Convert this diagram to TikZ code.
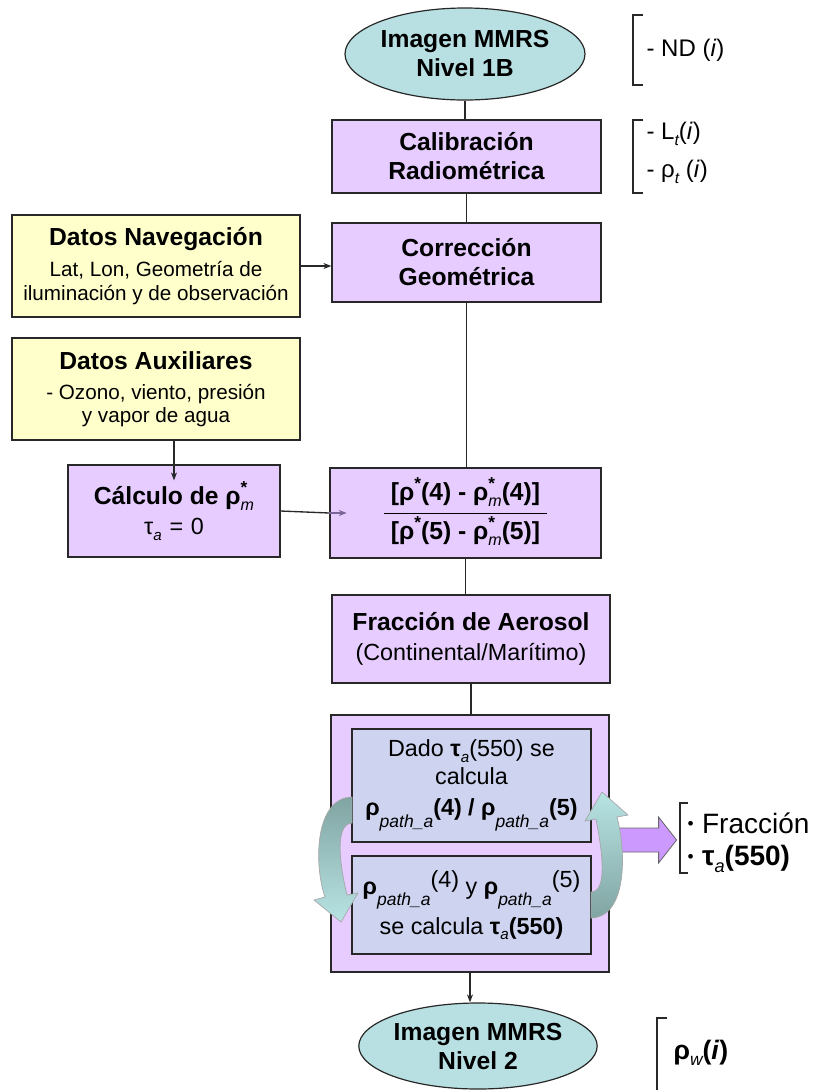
\documentclass[tikz,border=0pt]{standalone}
\usepackage{fontspec}
\setmainfont{Liberation Sans}
\usetikzlibrary{arrows.meta,calc,shapes.geometric}

\definecolor{cyanfill}{RGB}{184,224,226}
\definecolor{purplefill}{RGB}{230,204,255}
\definecolor{yellowfill}{RGB}{255,255,204}
\definecolor{innerfill}{RGB}{206,212,240}
\definecolor{fatfill}{RGB}{204,153,255}
\definecolor{tealdark}{RGB}{128,164,162}
\definecolor{teallight}{RGB}{184,228,228}
\definecolor{arrowgray}{RGB}{120,100,150}
\definecolor{edge}{RGB}{40,40,40}

\makeatletter
\newcommand\relsz[1]{\fontsize{\strip@pt\dimexpr\f@size pt*#1/100\relax}{0}\selectfont}
\makeatother
\newcommand\fT{\fontsize{18.5}{21.75}\selectfont\bfseries}
\newcommand\fS{\fontsize{15.5}{17.5}\selectfont}
\newcommand\fB{\fontsize{18}{20}\selectfont}
\newcommand\fM{\fontsize{17.5}{21}\selectfont}
\newcommand\fL{\fontsize{21}{26}\selectfont}
\newcommand\sbs[1]{\raisebox{-0.45ex}{\relsz{65}\mdseries\itshape #1}}
\newcommand\sps[1]{\raisebox{0.45em}{\relsz{70}#1}}
\newcommand\supsub[2]{\rlap{\sps{#1}}\sbs{#2}}
\newcommand\psub{\raisebox{-0.5em}{\relsz{75}\mdseries\itshape path\_a}}
\newcommand\smbullet{\raisebox{0.12em}{\fontsize{13}{13}\selectfont\textbullet}\hspace{0.3em}}

\begin{document}
\begin{tikzpicture}[x=0.75pt,y=-0.75pt,
  box/.style={draw=edge, line width=0.9pt, inner sep=0pt, align=center},
  pbox/.style={box, fill=purplefill},
  ybox/.style={box, fill=yellowfill},
  ibox/.style={box, fill=innerfill},
  ell/.style={ellipse, draw=edge, line width=0.9pt, fill=cyanfill, inner sep=0pt, align=center, font=\fT},
  conn/.style={line width=1pt, draw=edge},
  arr/.style={conn, -{Stealth[length=6pt,width=4.5pt]}},
  brk/.style={line width=0.9pt, draw=edge},
  lbl/.style={anchor=west, inner sep=1pt},
  fat/.style={fill=fatfill, draw=black!60, line width=0.6pt},
  curlA/.style={top color=tealdark, bottom color=teallight, draw=black!35, line width=0.5pt},
  curlB/.style={top color=teallight, bottom color=tealdark, draw=black!35, line width=0.5pt}]
\useasboundingbox (0,0) rectangle (822,1090);

% main column
\node[ell, minimum width=240*0.75pt, minimum height=92*0.75pt] (n1b) at (465,54) {Imagen MMRS\\Nivel 1B};
\node[pbox, minimum width=269*0.75pt, minimum height=73*0.75pt, font=\fT] (cal) at (466.5,156.5) {Calibración\\Radiométrica};
\node[pbox, minimum width=269*0.75pt, minimum height=79*0.75pt, font=\fT] (geo) at (466.5,262.5) {Corrección\\Geométrica};
\node[ybox, minimum width=288*0.75pt, minimum height=102*0.75pt, font=\fS] (nav) at (156,266) {{\fT Datos Navegación}\\[6pt]Lat, Lon, Geometría de\\iluminación y de observación};
\node[ybox, minimum width=288*0.75pt, minimum height=102*0.75pt, font=\fS] (aux) at (156,389) {{\fT Datos Auxiliares}\\[5pt]- Ozono, viento, presión\\y vapor de agua};
\node[pbox, minimum width=212*0.75pt, minimum height=92*0.75pt, font=\fM] (calc) at (174,511) {{\fT Cálculo de ρ\supsub{*}{m}}\\[2pt]τ\sbs{a}\,\,=\,\,0};
\node[pbox, minimum width=271*0.75pt, minimum height=90*0.75pt, font=\fT] (frac) at (465.5,513) {\setlength{\arrayrulewidth}{0.7pt}\begin{tabular}{@{\hspace{5pt}}c@{\hspace{5pt}}}[ρ\sps{*}(4) - ρ\supsub{*}{m}(4)]\\[3pt]\hline\rule{0pt}{19pt}[ρ\sps{*}(5) - ρ\supsub{*}{m}(5)]\end{tabular}};
\node[pbox, minimum width=278*0.75pt, minimum height=88*0.75pt, font=\fM] (aer) at (471,639) {{\fT Fracción de Aerosol}\\[1pt](Continental/Marítimo)};
\node[pbox, minimum width=278*0.75pt, minimum height=257*0.75pt] (outer) at (470,843.5) {};
\node[ibox, minimum width=239*0.75pt, minimum height=113*0.75pt, font=\fM] (in1) at (471.5,785.5) {Dado {\bfseries τ}\sbs{a}(550) se\\calcula\\[2pt]{\bfseries ρ\psub(4) / ρ\psub(5)}};
\node[ibox, minimum width=239*0.75pt, minimum height=98*0.75pt, font=\fM] (in2) at (471.5,905) {{\bfseries ρ}\psub\raisebox{0.3em}{(4)} y {\bfseries ρ}\psub\raisebox{0.3em}{(5)}\\[5pt]se calcula {\bfseries τ\sbs{a}(550)}};
\node[ell, minimum width=238*0.75pt, minimum height=86*0.75pt] (n2) at (478,1046) {Imagen MMRS\\Nivel 2};

% connectors
\draw[conn] (n1b.south) -- (n1b.south |- cal.north);
\draw[conn] (cal.south) -- (cal.south |- geo.north);
\draw[arr] (nav.east) -- (nav.east -| geo.west);
\draw[conn] (geo.south) -- (geo.south |- frac.north);
\draw[arr] (calc.north |- aux.south) -- ([yshift=-12pt]calc.north);
\draw[conn] (calc.east) -- (frac.west);
\draw[arr, draw=arrowgray] (frac.west) -- ([xshift=13pt]frac.west);
\draw[conn] (frac.south) -- (frac.south |- aer.north);
\draw[conn] (aer.south) -- (aer.south |- outer.north);
\draw[arr] (outer.south) -- (outer.south |- n2.north);

% fat arrow to results
\coordinate (fa) at (outer.east |- 0,840);
\draw[fat] (fa) ++(0,-12) -- ++(49,0) -- ++(0,-11) -- ++(18,23) -- ++(-18,23) -- ++(0,-11) -- ++(-49,0) -- cycle;

% curved arrows
\shadedraw[curlA] (352,797) .. controls (314,798) and (314,866) .. (325,897) -- (314,900) -- (341,922) -- (358,893) -- (347,895) .. controls (340,866) and (334,824) .. (352,823) -- cycle;
\shadedraw[curlB] (591,918) .. controls (628,917) and (626,850) .. (617,817) -- (628,815) -- (602,792) -- (585,821) -- (596,819) .. controls (602,850) and (608,892) .. (591,892) -- cycle;

% side brackets
\draw[brk] (643,15) -- (633,15) -- (633,85) -- (643,85);
\node[lbl, font=\fB] (nd) at (645,50) {- ND (\textit{i})};
\draw[brk] (643,120) -- (633,120) -- (633,193) -- (643,193);
\node[lbl, font=\fB] (lt) at (645,134) {- L\sbs{t}(\textit{i})};
\node[lbl, font=\fB] (rt) at (645,172) {- ρ\sbs{t} (\textit{i})};
\draw[brk] (688,803) -- (680,803) -- (680,873) -- (688,873);
\node[lbl, font=\fL] (fr) at (686,823) {\smbullet Fracción};
\node[lbl, font=\fL] (ta) at (686,859) {\smbullet{\bfseries τ\sbs{a}(550)}};
\draw[brk] (667,1018) -- (657,1018) -- (657,1090);
\node[lbl, font=\fontsize{20}{24}\selectfont\bfseries] (rw) at (672,1053) {ρ\sbs{w}(\textit{i})};
\end{tikzpicture}
\end{document}
